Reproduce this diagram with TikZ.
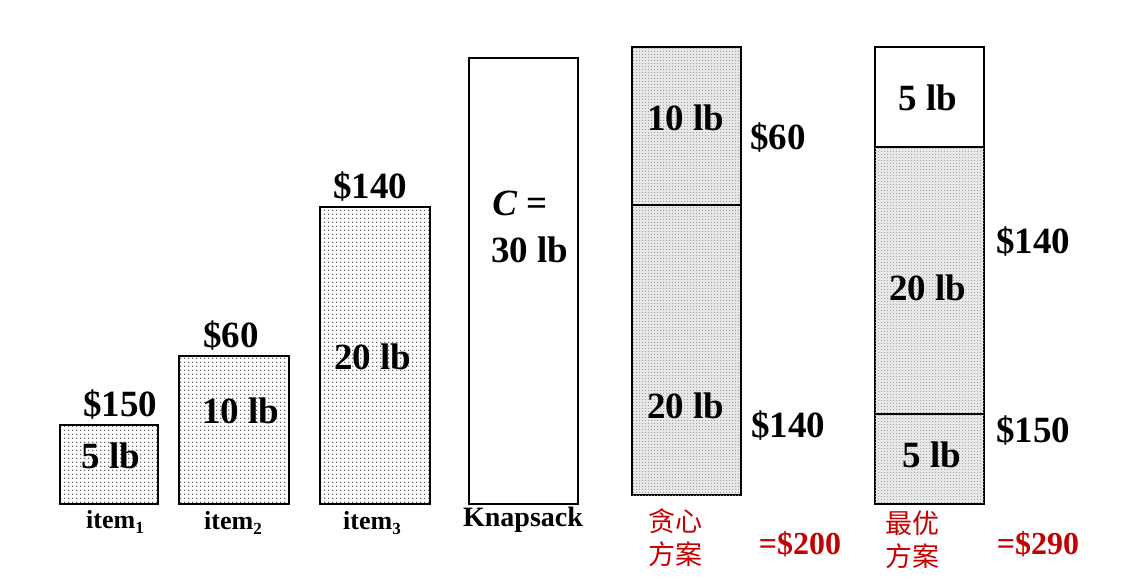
\documentclass[tikz,border=0pt]{standalone}
\usepackage{fontspec}
\setmainfont{Liberation Serif}
\newfontfamily\cjk{Noto Sans CJK SC}
\usetikzlibrary{patterns}
\pgfdeclarepatternformonly{sparsedots}{\pgfpointorigin}{\pgfpoint{4pt}{4pt}}{\pgfpoint{4pt}{4pt}}{%
  \pgfpathcircle{\pgfpoint{1pt}{1pt}}{0.8pt}\pgfusepath{fill}}
\pgfdeclarepatternformonly{densedots}{\pgfpointorigin}{\pgfpoint{2.5pt}{2.5pt}}{\pgfpoint{2.5pt}{2.5pt}}{%
  \pgfpathcircle{\pgfpoint{0.6pt}{0.6pt}}{0.6pt}\pgfusepath{fill}}
\definecolor{myred}{RGB}{196,0,0}
\newcommand{\sbs}[1]{\raisebox{-0.4ex}{\fontsize{17}{17}\selectfont #1}}
\tikzset{
  box/.style={draw=black, line width=2.2pt},
  itembox/.style={box, pattern=sparsedots, pattern color=black!85},
  solbox/.style={box, fill=gray!18, postaction={pattern=densedots, pattern color=gray!80}},
  big/.style={font=\fontsize{37}{40}\selectfont\bfseries, inner sep=0pt},
  lab/.style={font=\fontsize{26}{30}\selectfont\bfseries, inner sep=0pt},
  red/.style={text=myred, inner sep=0pt},
}
\begin{document}
\begin{tikzpicture}[x=1pt,y=-1pt]
\useasboundingbox (0,0) rectangle (1127,583);
% items
\draw[itembox] (60,425) rectangle (158,504);
\node[big] (p1) at (120,405) {\$150};
\node[big] (w1) at (111,456) {5 lb};
\node[lab] (i1) at (115,522) {item\sbs{1}};

\draw[itembox] (179,356) rectangle (289,504);
\node[big] (p2) at (231,336) {\$60};
\node[big] (w2) at (241,411) {10 lb};
\node[lab] (i2) at (233,523) {item\sbs{2}};

\draw[itembox] (320,207) rectangle (430,504);
\node[big] (p3) at (370,187) {\$140};
\node[big] (w3) at (373,357) {20 lb};
\node[lab] (i3) at (372,523) {item\sbs{3}};

% knapsack
\draw[box, fill=white] (469,58) rectangle (578,504);
\node[big] (c) at (520,203) {\textit{C} =};
\node[big] (cw) at (530,250) {30 lb};
\node[lab, font=\fontsize{28}{32}\selectfont\bfseries] (k) at (523,520) {Knapsack};

% greedy
\draw[solbox] (632,47) rectangle (741,495);
\draw[box] (632,205) -- (741,205);
\node[big] (g1) at (686,118) {10 lb};
\node[big] (gp1) at (778,138) {\$60};
\node[big] (g2) at (686,406) {20 lb};
\node[big] (gp2) at (788,426) {\$140};
\node[red, font=\fontsize{27}{33}\selectfont\cjk, align=left] (gl) at (675,538) {贪心\\方案};
\node[red, font=\fontsize{32}{36}\selectfont\bfseries] (gt) at (800,544) {=\$200};

% optimal
\draw[solbox] (875,147) rectangle (984,504);
\draw[box, fill=white] (875,47) rectangle (984,147);
\draw[box] (875,414) -- (984,414);
\node[big] (o1) at (928,98) {5 lb};
\node[big] (o2) at (928,288) {20 lb};
\node[big] (op2) at (1033,242) {\$140};
\node[big] (o3) at (932,455) {5 lb};
\node[big] (op3) at (1033,431) {\$150};
\node[red, font=\fontsize{27}{33}\selectfont\cjk, align=left] (ol) at (912,540) {最优\\方案};
\node[red, font=\fontsize{32}{36}\selectfont\bfseries] (ot) at (1038,544) {=\$290};
\end{tikzpicture}
\end{document}
